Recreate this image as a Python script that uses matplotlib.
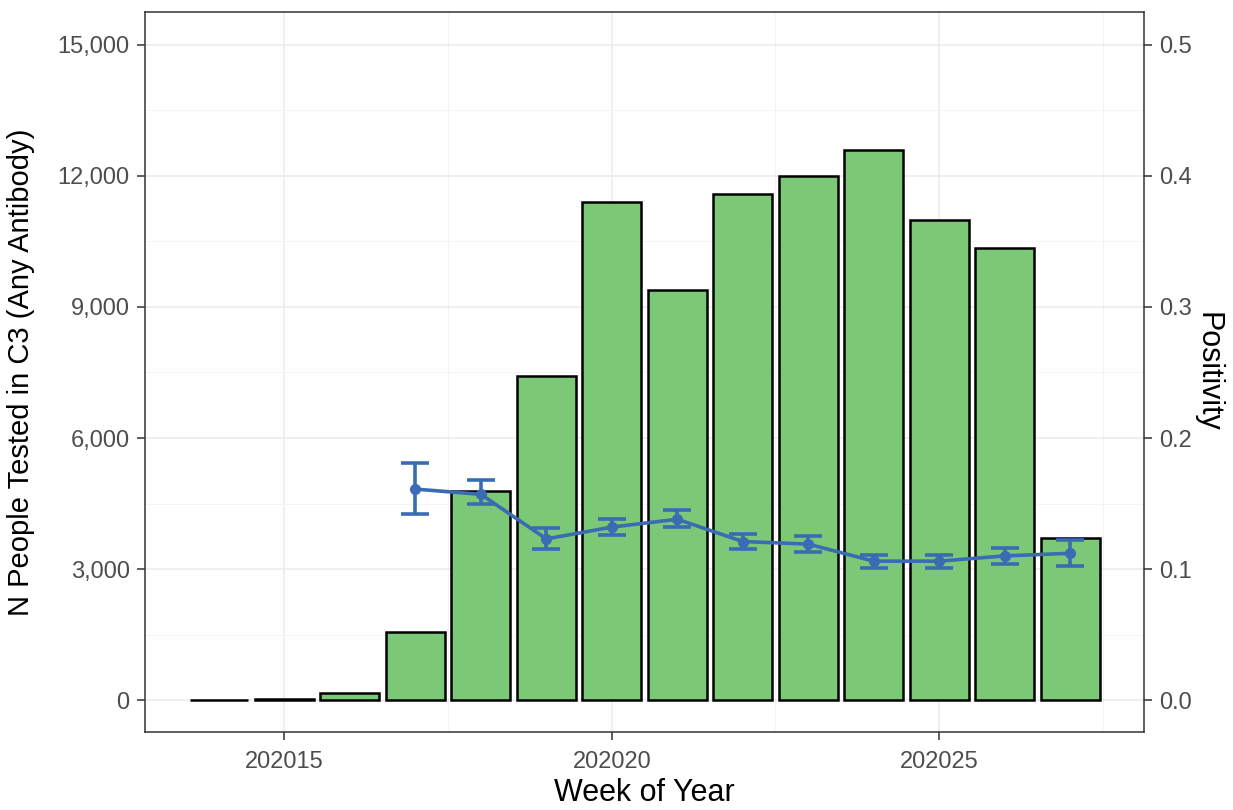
import numpy as np
import matplotlib
matplotlib.use("Agg")
import matplotlib.pyplot as plt

plt.rcParams['font.family'] = ['Liberation Sans', 'DejaVu Sans']

# weekly counts (bars)
weeks = [202014, 202015, 202016, 202017, 202018, 202019, 202020,
         202021, 202022, 202023, 202024, 202025, 202026, 202027]
n_tested = [10, 25, 150, 1550, 4780, 7420, 11400,
            9400, 11580, 12000, 12600, 11000, 10350, 3720]

# positivity line with error bars
pos_weeks = [202017, 202018, 202019, 202020, 202021, 202022, 202023,
             202024, 202025, 202026, 202027]
positivity = [0.161, 0.157, 0.123, 0.132, 0.138, 0.121, 0.119,
              0.106, 0.106, 0.110, 0.112]
pos_low = [0.142, 0.150, 0.115, 0.126, 0.132, 0.115, 0.113,
           0.101, 0.101, 0.104, 0.102]
pos_high = [0.181, 0.168, 0.131, 0.138, 0.145, 0.127, 0.125,
            0.111, 0.111, 0.116, 0.122]

scale = 30000  # 0.5 positivity == 15000 people

fig = plt.figure(figsize=(12.33, 8.1), dpi=100)
ax = fig.add_axes([0.1176, 0.0963, 0.8103, 0.8889])

ax.bar(weeks, n_tested, width=0.9, color="#7bc876", edgecolor="black",
       linewidth=1.8, zorder=2)

y = np.array(positivity) * scale
yerr = [y - np.array(pos_low) * scale, np.array(pos_high) * scale - y]
ax.errorbar(pos_weeks, y, yerr=yerr, color="#3a6cb4", linewidth=2.6,
            marker="o", markersize=7, capsize=10, capthick=2.6,
            elinewidth=2.6, zorder=3)

ax.set_yticks([0, 3000, 6000, 9000, 12000, 15000])
ax.set_yticklabels(["0", "3,000", "6,000", "9,000", "12,000", "15,000"])
ax.set_yticks([1500, 4500, 7500, 10500, 13500], minor=True)
ax.set_xticks([202015, 202020, 202025])
ax.set_xticklabels(["202015", "202020", "202025"])
ax.set_xticks([202017.5, 202022.5, 202027.5], minor=True)

# limits after ticks so they don't get widened
ax.set_xlim(202012.87, 202028.13)
ax.set_ylim(-732, 15755)

ax.grid(which="major", color="#ebebeb", linewidth=1.1, zorder=0)
ax.grid(which="minor", color="#f2f2f2", linewidth=0.6, zorder=0)
ax.set_axisbelow(True)

ax.tick_params(which="major", length=6, width=1.1, color="#333333",
               labelsize=17, labelcolor="#4d4d4d", pad=5)
ax.tick_params(axis="x", which="major", pad=8)
ax.tick_params(which="minor", length=0)
for s in ax.spines.values():
    s.set_color("#333333")
    s.set_linewidth(1.1)

ax.set_xlabel("Week of Year", fontsize=22, labelpad=3)
ax.set_ylabel("N People Tested in C3 (Any Antibody)", fontsize=21, labelpad=16)

ax2 = ax.twinx()
ax2.set_ylim(-732 / scale, 15755 / scale)
ax2.set_yticks([0, 0.1, 0.2, 0.3, 0.4, 0.5])
ax2.set_yticklabels(["0.0", "0.1", "0.2", "0.3", "0.4", "0.5"])
ax2.tick_params(length=6, width=1.1, color="#333333",
                labelsize=17, labelcolor="#4d4d4d", pad=5)
for s in ax2.spines.values():
    s.set_visible(False)
ax2.set_ylabel("Positivity", fontsize=22, rotation=270, labelpad=22)

fig.savefig("out.png", dpi=100)
